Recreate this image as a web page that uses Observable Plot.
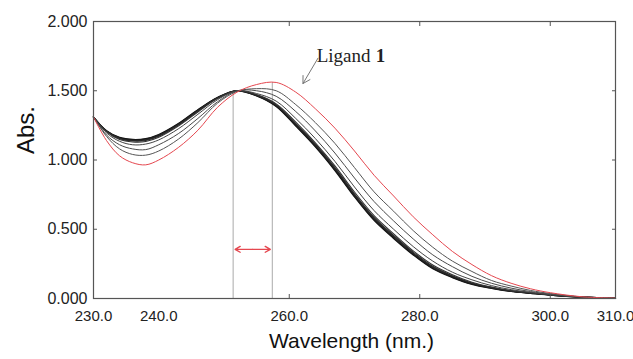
<!DOCTYPE html>
<html><head><meta charset="utf-8">
<script src="https://cdn.jsdelivr.net/npm/d3@7"></script>
<script src="https://cdn.jsdelivr.net/npm/@observablehq/plot@0.6"></script>
<style>body{margin:0;background:#fff}</style>
</head><body><div id="chart"></div>
<script>
// Wavelength grid (nm)
const wavelength = [230,232,234,236,238,240,243,246,249,252,255,258,261,264,267,270,273,276,279,282,285,288,291,294,297,300,305,310];

// Ligand 1 alone (red)
const ligand1 = [1.31,1.14,1.03,0.98,0.965,1.00,1.09,1.215,1.38,1.49,1.545,1.56,1.49,1.37,1.23,1.065,0.89,0.74,0.59,0.46,0.34,0.245,0.165,0.11,0.07,0.042,0.012,0.003];
// Titration spectra, first additions (grey)
const step1 = [1.31,1.17,1.08,1.04,1.035,1.065,1.15,1.27,1.41,1.495,1.515,1.50,1.40,1.27,1.12,0.945,0.77,0.63,0.49,0.37,0.27,0.195,0.13,0.09,0.058,0.036,0.011,0.003];
const step2 = [1.31,1.18,1.11,1.08,1.075,1.11,1.19,1.30,1.42,1.50,1.50,1.46,1.35,1.21,1.05,0.87,0.70,0.56,0.43,0.315,0.23,0.16,0.11,0.075,0.05,0.032,0.011,0.002];
const step3 = [1.31,1.195,1.135,1.11,1.115,1.145,1.225,1.33,1.435,1.50,1.48,1.425,1.30,1.155,0.99,0.805,0.635,0.50,0.375,0.27,0.19,0.135,0.093,0.064,0.044,0.028,0.01,0.002];
// Titration spectra, saturated (black bundle)
const step4 = [1.31,1.204,1.148,1.130,1.133,1.164,1.245,1.347,1.444,1.499,1.472,1.405,1.273,1.124,0.957,0.769,0.599,0.467,0.344,0.242,0.172,0.118,0.083,0.057,0.041,0.027,0.01,0.002];
const step5 = [1.31,1.207,1.154,1.137,1.141,1.171,1.252,1.353,1.447,1.50,1.469,1.399,1.263,1.114,0.945,0.756,0.586,0.455,0.334,0.232,0.164,0.112,0.080,0.055,0.040,0.026,0.01,0.002];
const step6 = [1.31,1.208,1.157,1.141,1.145,1.176,1.256,1.356,1.448,1.50,1.467,1.394,1.256,1.107,0.938,0.748,0.578,0.448,0.327,0.226,0.160,0.108,0.077,0.053,0.039,0.025,0.01,0.002];
const step7 = [1.31,1.21,1.16,1.145,1.15,1.18,1.26,1.36,1.45,1.50,1.465,1.39,1.25,1.10,0.93,0.74,0.57,0.44,0.32,0.22,0.155,0.105,0.075,0.052,0.038,0.025,0.01,0.002];
const step8 = [1.31,1.211,1.163,1.148,1.154,1.184,1.263,1.363,1.451,1.50,1.463,1.387,1.245,1.095,0.924,0.734,0.564,0.434,0.315,0.215,0.151,0.102,0.073,0.051,0.037,0.025,0.01,0.002];

// Axis ticks
const yTicks = [0, 0.5, 1.0, 1.5, 2.0];
const yInnerTicks = [0.5, 1.0, 1.5];
const xTickLabels = [230, 240, 260, 280, 300, 310];
const xInnerTicks = [260, 280, 300];

// Annotations (data units)
const shiftLines = [251.4, 257.4];
const shiftTops = [1.49, 1.56];
const shiftArrow = {from: 251.7, mid: 254.4, to: 257.1, level: 0.355};
const ligandLabel = {x: 264.2, y: 1.752};
const ligandPointer = {x1: 264.4, y1: 1.735, x2: 262.1, y2: 1.552};

const RED = "#e5474f";
const series = [
  {name: "s8", values: step8, color: "#111", width: 1.3},
  {name: "s7", values: step7, color: "#1a1a1a", width: 1.3},
  {name: "s6", values: step6, color: "#222", width: 1.2},
  {name: "s5", values: step5, color: "#2a2a2a", width: 1.2},
  {name: "s4", values: step4, color: "#333", width: 1.1},
  {name: "s3", values: step3, color: "#444", width: 1},
  {name: "s2", values: step2, color: "#4a4a4a", width: 1},
  {name: "s1", values: step1, color: "#555", width: 1},
  {name: "ligand", values: ligand1, color: RED, width: 1}
];

const lineMarks = series.map(s =>
  Plot.line(wavelength.map((w, i) => ({w, a: s.values[i]})),
    {x: "w", y: "a", stroke: s.color, strokeWidth: s.width, curve: "catmull-rom"}));

const FONT = "Liberation Sans, Arial, sans-serif";
const blank = () => "";

const chart = Plot.plot({
  width: 633, height: 359,
  marginLeft: 93, marginRight: 18, marginTop: 21, marginBottom: 61,
  x: {domain: [230, 310]},
  y: {domain: [0, 2]},
  style: {fontFamily: FONT, background: "#fff", color: "#222"},
  marks: [
    Plot.ruleX(shiftLines.map((w, i) => ({w, top: shiftTops[i]})), {x: "w", y1: 0, y2: "top", stroke: "#aaa", strokeWidth: 1}),
    ...lineMarks,
    Plot.arrow([shiftArrow], {x1: "mid", x2: "from", y1: "level", y2: "level", stroke: RED, strokeWidth: 1.4, headLength: 11}),
    Plot.arrow([shiftArrow], {x1: "mid", x2: "to", y1: "level", y2: "level", stroke: RED, strokeWidth: 1.4, headLength: 11}),
    Plot.arrow([ligandPointer], {x1: "x1", y1: "y1", x2: "x2", y2: "y2", stroke: "#777", strokeWidth: 1, headLength: 12}),
    Plot.text(["Ligand"], {x: () => ligandLabel.x, y: () => ligandLabel.y, text: d => d, textAnchor: "start", fontFamily: "Liberation Serif, Times New Roman, serif", fontSize: 19, fill: "#222"}),
    Plot.text(["1"], {x: () => ligandLabel.x, y: () => ligandLabel.y, text: d => d, dx: 59, textAnchor: "start", fontFamily: "Liberation Serif, Times New Roman, serif", fontWeight: "bold", fontSize: 19, fill: "#222"}),
    Plot.axisY(yTicks, {anchor: "left", tickSize: 0, tickPadding: 6, tickFormat: d => d.toFixed(3), fontSize: 16, label: null}),
    Plot.axisY(yInnerTicks, {anchor: "left", tickSize: 4, dx: 4, tickFormat: blank, label: null, stroke: "#555"}),
    Plot.axisY(yInnerTicks, {anchor: "right", tickSize: 4, dx: -4, tickFormat: blank, label: null, stroke: "#555"}),
    Plot.axisX(xTickLabels, {anchor: "bottom", tickSize: 0, tickPadding: 12, tickFormat: d => d.toFixed(1), fontSize: 15, label: null}),
    Plot.axisX(xInnerTicks, {anchor: "bottom", tickSize: 4, dy: -4, tickFormat: blank, label: null, stroke: "#555"}),
    Plot.axisX(xInnerTicks, {anchor: "top", tickSize: 4, dy: 4, tickFormat: blank, label: null, stroke: "#555"}),
    Plot.frame({stroke: "#555", strokeWidth: 1.2}),
    Plot.text(["Abs."], {frameAnchor: "left", text: d => d, dx: -67, dy: -6, rotate: -90, fontSize: 24, fill: "#111"}),
    Plot.text(["Wavelength (nm.)"], {frameAnchor: "bottom", text: d => d, dx: -3, dy: 49, fontSize: 21, fill: "#111"})
  ]
});
document.getElementById("chart").appendChild(chart);
</script>
</body></html>
